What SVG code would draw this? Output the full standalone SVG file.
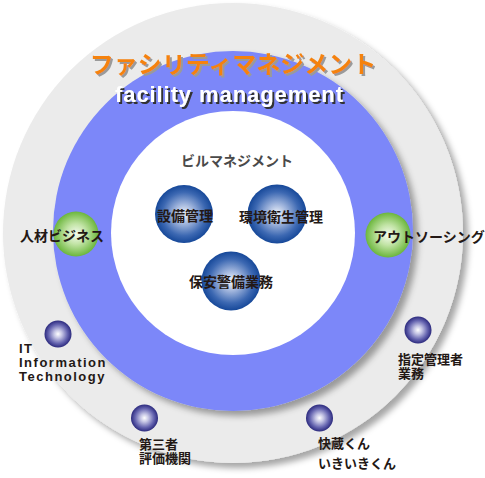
<svg xmlns="http://www.w3.org/2000/svg" width="485" height="478" viewBox="0 0 485 478">
<defs>
<style>
.jp{font-family:"Liberation Sans","Noto Sans CJK JP",sans-serif;font-weight:bold;fill:#231815;font-size:14px}
.sm{font-size:13px}
.lat{font-family:"Liberation Sans","Noto Sans CJK JP",sans-serif;font-weight:bold;fill:#231815;font-size:13px;letter-spacing:1.5px}
</style>
<filter id="sh" x="-10%" y="-10%" width="125%" height="125%">
<feGaussianBlur in="SourceAlpha" stdDeviation="3"/>
<feOffset dx="5" dy="5" result="b"/>
<feFlood flood-color="#000" flood-opacity="0.35"/>
<feComposite in2="b" operator="in"/>
<feMerge><feMergeNode/><feMergeNode in="SourceGraphic"/></feMerge>
</filter>
<filter id="tsh" x="-5%" y="-20%" width="110%" height="150%">
<feOffset in="SourceAlpha" dx="2" dy="2" result="o"/>
<feFlood flood-color="#9a9a9a"/>
<feComposite in2="o" operator="in"/>
<feMerge><feMergeNode/><feMergeNode in="SourceGraphic"/></feMerge>
</filter>
<filter id="tsh2" x="-5%" y="-20%" width="110%" height="150%">
<feOffset in="SourceAlpha" dx="2" dy="2" result="o"/>
<feFlood flood-color="#333333"/>
<feComposite in2="o" operator="in"/>
<feMerge><feMergeNode/><feMergeNode in="SourceGraphic"/></feMerge>
</filter>
<radialGradient id="gBlue" cx="50%" cy="50%" r="50%">
<stop offset="0" stop-color="#f2f5fb"/>
<stop offset="0.35" stop-color="#9fb4dc"/>
<stop offset="0.75" stop-color="#3c68b2"/>
<stop offset="1" stop-color="#164899"/>
</radialGradient>
<radialGradient id="gGreen" cx="50%" cy="50%" r="50%">
<stop offset="0" stop-color="#f6fbf1"/>
<stop offset="0.45" stop-color="#c2e4a6"/>
<stop offset="1" stop-color="#6bb63c"/>
</radialGradient>
<radialGradient id="gPurple" cx="50%" cy="50%" r="50%">
<stop offset="0" stop-color="#ffffff"/>
<stop offset="0.3" stop-color="#c4c4e4"/>
<stop offset="0.7" stop-color="#6665b0"/>
<stop offset="1" stop-color="#2c2a7e"/>
</radialGradient>
</defs>
<rect width="485" height="478" fill="#ffffff"/>
<g id="rings">
<circle cx="233" cy="233" r="230" fill="#ebebeb" filter="url(#sh)"/>
<circle cx="233" cy="231" r="180" fill="#7b87f9" filter="url(#sh)"/>
<circle cx="233" cy="233" r="122" fill="#ffffff"/>
</g>
<g id="title">
<text x="233" y="73" text-anchor="middle" font-family="Noto Sans CJK JP, sans-serif" font-weight="bold" font-size="24" fill="#f5820c" filter="url(#tsh)">ファシリティマネジメント</text>
<text x="229" y="102" text-anchor="middle" font-family="Liberation Sans, Arial, sans-serif" font-weight="bold" font-size="22" fill="#ffffff" textLength="228" filter="url(#tsh2)">facility management</text>
</g>
<g id="building-management">
<text x="237" y="166" text-anchor="middle" class="jp" style="fill:#4a4a4a">ビルマネジメント</text>
</g>
<g id="node-setsubi">
<circle cx="184" cy="214" r="29" fill="url(#gBlue)"/>
<text x="185" y="221" text-anchor="middle" class="jp">設備管理</text>
</g>
<g id="node-kankyo">
<circle cx="277" cy="214" r="29.5" fill="url(#gBlue)"/>
<text x="281" y="222" text-anchor="middle" class="jp">環境衛生管理</text>
</g>
<g id="node-hoan">
<circle cx="231" cy="281" r="29.5" fill="url(#gBlue)"/>
<text x="231" y="287" text-anchor="middle" class="jp">保安警備業務</text>
</g>
<g id="node-jinzai">
<circle cx="76" cy="234" r="22.5" fill="url(#gGreen)"/>
<text x="20" y="241" class="jp">人材ビジネス</text>
</g>
<g id="node-outsourcing">
<circle cx="388" cy="235" r="22.5" fill="url(#gGreen)"/>
<text x="373" y="242" class="jp">アウトソーシング</text>
</g>
<g id="node-it">
<circle cx="58" cy="334" r="13.5" fill="url(#gPurple)"/>
<text class="lat"><tspan x="19" y="353">IT</tspan><tspan x="19" y="367">Information</tspan><tspan x="19" y="381">Technology</tspan></text>
</g>
<g id="node-shitei">
<circle cx="418" cy="330" r="13.5" fill="url(#gPurple)"/>
<text class="jp sm"><tspan x="398" y="364">指定管理者</tspan><tspan x="398" y="378">業務</tspan></text>
</g>
<g id="node-daisansha">
<circle cx="144.5" cy="418" r="13.5" fill="url(#gPurple)"/>
<text class="jp sm"><tspan x="139" y="449">第三者</tspan><tspan x="139" y="463">評価機関</tspan></text>
</g>
<g id="node-kaizo">
<circle cx="319.5" cy="418" r="13.5" fill="url(#gPurple)"/>
<text class="jp sm"><tspan x="318" y="448">快蔵くん</tspan><tspan x="318" y="468">いきいきくん</tspan></text>
</g>
<g id="connectors"/>
</svg>
